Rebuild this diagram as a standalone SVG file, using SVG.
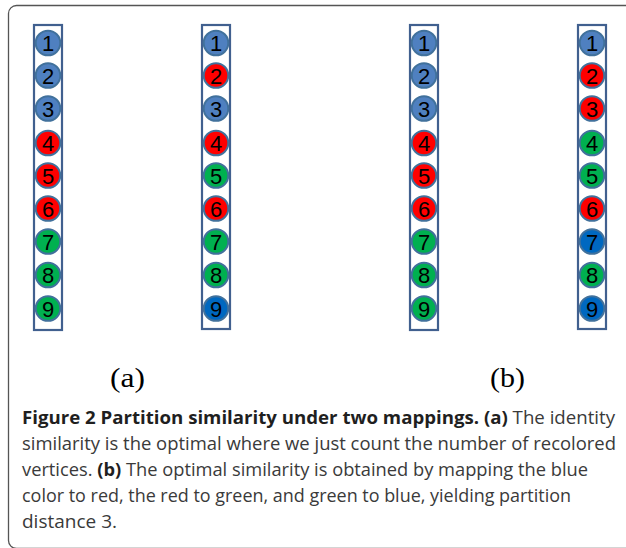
<svg xmlns="http://www.w3.org/2000/svg" width="626" height="548" viewBox="0 0 626 548">
<style>
.frame{fill:none;stroke:#555;stroke-width:1.3}
.col{fill:#fff;stroke:#41608F;stroke-width:2.2}
.n circle{stroke:#41719C;stroke-width:2}
.n text{font-family:"Liberation Sans",Arial,sans-serif;font-size:22px;fill:#000;text-anchor:middle}
.b{fill:#4F80C0}.r{fill:#FF0000}.g{fill:#00B050}.d{fill:#0068C0}
.lab{font-family:"Liberation Serif","DejaVu Serif",serif;font-size:28px;fill:#000}
.cap{font-family:"Open Sans","Noto Sans",sans-serif;font-size:18px;fill:#3a3a3a}
.cap .bold{font-weight:bold;fill:#1f1f1f}
</style>
<rect class="frame" x="8.5" y="5.5" width="700" height="543" rx="8"/>
<g id="columns">
<rect id="col-a1" class="col" x="34" y="25" width="28" height="305"/>
<rect id="col-a2" class="col" x="202" y="25" width="28" height="304"/>
<rect id="col-b1" class="col" x="410" y="25" width="28" height="305"/>
<rect id="col-b2" class="col" x="578" y="25" width="28" height="304"/>
</g>
<g id="connectors"/>
<g id="a1-1" class="n"><circle class="b" cx="48" cy="43" r="12.3"/><text x="48" y="51">1</text></g>
<g id="a1-2" class="n"><circle class="b" cx="48" cy="75.5" r="12.3"/><text x="48" y="83.5">2</text></g>
<g id="a1-3" class="n"><circle class="b" cx="48" cy="108.5" r="12.3"/><text x="48" y="116.5">3</text></g>
<g id="a1-4" class="n"><circle class="r" cx="48" cy="143" r="12.3"/><text x="48" y="151">4</text></g>
<g id="a1-5" class="n"><circle class="r" cx="48" cy="175.5" r="12.3"/><text x="48" y="183.5">5</text></g>
<g id="a1-6" class="n"><circle class="r" cx="48" cy="208.5" r="12.3"/><text x="48" y="216.5">6</text></g>
<g id="a1-7" class="n"><circle class="g" cx="48" cy="241.5" r="12.3"/><text x="48" y="249.5">7</text></g>
<g id="a1-8" class="n"><circle class="g" cx="48" cy="275" r="12.3"/><text x="48" y="283">8</text></g>
<g id="a1-9" class="n"><circle class="g" cx="48" cy="308.5" r="12.3"/><text x="48" y="316.5">9</text></g>

<g id="a2-1" class="n"><circle class="b" cx="216" cy="43" r="12.3"/><text x="216" y="51">1</text></g>
<g id="a2-2" class="n"><circle class="r" cx="216" cy="75.5" r="12.3"/><text x="216" y="83.5">2</text></g>
<g id="a2-3" class="n"><circle class="b" cx="216" cy="108.5" r="12.3"/><text x="216" y="116.5">3</text></g>
<g id="a2-4" class="n"><circle class="r" cx="216" cy="143" r="12.3"/><text x="216" y="151">4</text></g>
<g id="a2-5" class="n"><circle class="g" cx="216" cy="175.5" r="12.3"/><text x="216" y="183.5">5</text></g>
<g id="a2-6" class="n"><circle class="r" cx="216" cy="208.5" r="12.3"/><text x="216" y="216.5">6</text></g>
<g id="a2-7" class="n"><circle class="g" cx="216" cy="241.5" r="12.3"/><text x="216" y="249.5">7</text></g>
<g id="a2-8" class="n"><circle class="g" cx="216" cy="275" r="12.3"/><text x="216" y="283">8</text></g>
<g id="a2-9" class="n"><circle class="d" cx="216" cy="308.5" r="12.3"/><text x="216" y="316.5">9</text></g>

<g id="b1-1" class="n"><circle class="b" cx="424" cy="43" r="12.3"/><text x="424" y="51">1</text></g>
<g id="b1-2" class="n"><circle class="b" cx="424" cy="75.5" r="12.3"/><text x="424" y="83.5">2</text></g>
<g id="b1-3" class="n"><circle class="b" cx="424" cy="108.5" r="12.3"/><text x="424" y="116.5">3</text></g>
<g id="b1-4" class="n"><circle class="r" cx="424" cy="143" r="12.3"/><text x="424" y="151">4</text></g>
<g id="b1-5" class="n"><circle class="r" cx="424" cy="175.5" r="12.3"/><text x="424" y="183.5">5</text></g>
<g id="b1-6" class="n"><circle class="r" cx="424" cy="208.5" r="12.3"/><text x="424" y="216.5">6</text></g>
<g id="b1-7" class="n"><circle class="g" cx="424" cy="241.5" r="12.3"/><text x="424" y="249.5">7</text></g>
<g id="b1-8" class="n"><circle class="g" cx="424" cy="275" r="12.3"/><text x="424" y="283">8</text></g>
<g id="b1-9" class="n"><circle class="g" cx="424" cy="308.5" r="12.3"/><text x="424" y="316.5">9</text></g>

<g id="b2-1" class="n"><circle class="b" cx="592" cy="43" r="12.3"/><text x="592" y="51">1</text></g>
<g id="b2-2" class="n"><circle class="r" cx="592" cy="75.5" r="12.3"/><text x="592" y="83.5">2</text></g>
<g id="b2-3" class="n"><circle class="r" cx="592" cy="108.5" r="12.3"/><text x="592" y="116.5">3</text></g>
<g id="b2-4" class="n"><circle class="g" cx="592" cy="143" r="12.3"/><text x="592" y="151">4</text></g>
<g id="b2-5" class="n"><circle class="g" cx="592" cy="175.5" r="12.3"/><text x="592" y="183.5">5</text></g>
<g id="b2-6" class="n"><circle class="r" cx="592" cy="208.5" r="12.3"/><text x="592" y="216.5">6</text></g>
<g id="b2-7" class="n"><circle class="d" cx="592" cy="241.5" r="12.3"/><text x="592" y="249.5">7</text></g>
<g id="b2-8" class="n"><circle class="g" cx="592" cy="275" r="12.3"/><text x="592" y="283">8</text></g>
<g id="b2-9" class="n"><circle class="d" cx="592" cy="308.5" r="12.3"/><text x="592" y="316.5">9</text></g>

<g id="labels">
<text class="lab" x="110" y="387" textLength="35" lengthAdjust="spacingAndGlyphs">(a)</text>
<text class="lab" x="490" y="387" textLength="35" lengthAdjust="spacingAndGlyphs">(b)</text>
</g>
<g id="caption" class="cap">
<text x="22" y="424" textLength="593" lengthAdjust="spacingAndGlyphs"><tspan class="bold">Figure 2 Partition similarity under two mappings. (a)</tspan> The identity</text>
<text x="22" y="450" textLength="594" lengthAdjust="spacingAndGlyphs">similarity is the optimal where we just count the number of recolored</text>
<text x="22" y="476" textLength="566" lengthAdjust="spacingAndGlyphs">vertices. <tspan class="bold">(b)</tspan> The optimal similarity is obtained by mapping the blue</text>
<text x="22" y="502" textLength="549" lengthAdjust="spacingAndGlyphs">color to red, the red to green, and green to blue, yielding partition</text>
<text x="22" y="528" textLength="95" lengthAdjust="spacingAndGlyphs">distance 3.</text>
</g>
</svg>
